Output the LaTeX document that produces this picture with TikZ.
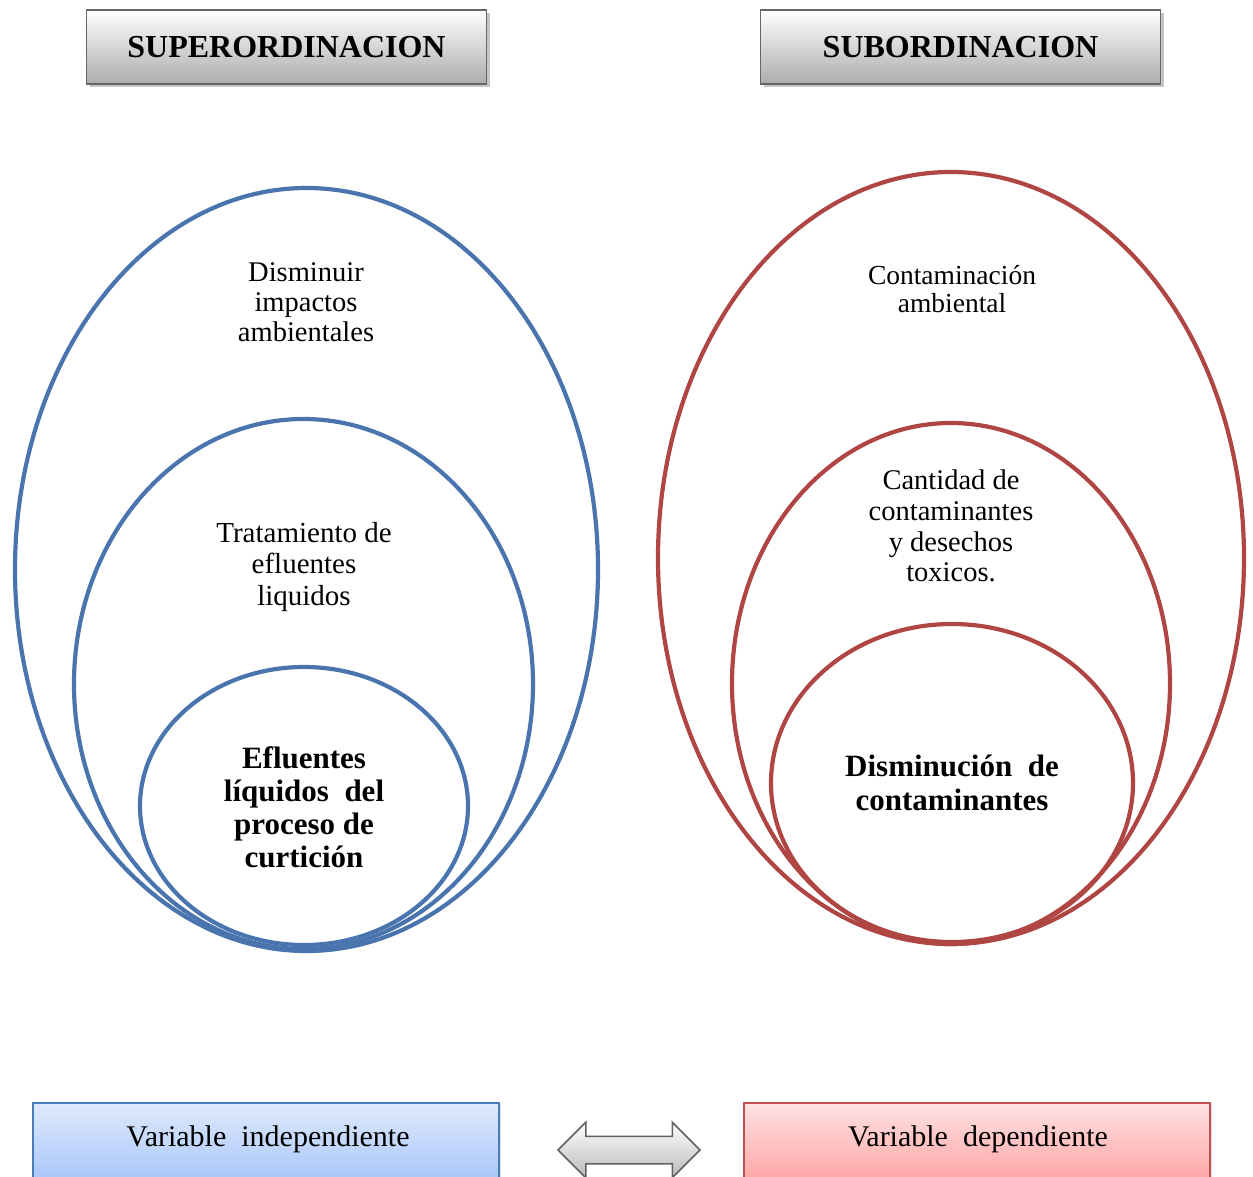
\documentclass[tikz,border=0pt]{standalone}
\usepackage{fontspec}
\setmainfont{Liberation Serif}
\usetikzlibrary{shapes.geometric,shapes.arrows,shadows}
\definecolor{supblue}{HTML}{4A74AD}
\definecolor{subred}{HTML}{B04643}
\definecolor{vblueline}{HTML}{4A7EBB}
\definecolor{vredline}{HTML}{C0504D}
\definecolor{vbluetop}{HTML}{DFEAFC}
\definecolor{vbluebot}{HTML}{A6C5FA}
\definecolor{vredtop}{HTML}{FFE2E2}
\definecolor{vredbot}{HTML}{FFA3A3}
\tikzset{
  header/.style={draw=gray!80!black, line width=1.2pt, top color=white, bottom color=gray!65,
    minimum width=400, minimum height=74, inner sep=0,
    drop shadow={shadow xshift=3pt, shadow yshift=-3pt, fill=black!45},
    font=\fontsize{32}{36}\selectfont\bfseries},
  ring/.style={ellipse, draw, line width=4.2pt, inner sep=0},
  bluering/.style={ring, draw=supblue},
  redring/.style={ring, draw=subred},
  label/.style={align=center, font=\fontsize{28.5}{30}\selectfont},
  boldlabel/.style={align=center, font=\fontsize{31}{33}\selectfont\bfseries},
  varbox/.style={line width=1.2pt, minimum width=466, minimum height=80, inner sep=0},
  vartext/.style={font=\fontsize{30}{34}\selectfont},
}
\begin{document}
\begin{tikzpicture}[x=1pt, y=-1pt]
\useasboundingbox (0,0) rectangle (1253,1177);
\clip (0,0) rectangle (1253,1177);

% headers
\node[header] (sup) at (286.5,47) {SUPERORDINACION};
\node[header] (sub) at (960.5,47) {SUBORDINACION};

% nested ellipses, left
\node[bluering, minimum width=583, minimum height=763] (bo) at (306.5,569.5) {};
\node[bluering, minimum width=459, minimum height=530] (bm) at (303.5,684) {};
\node[bluering, minimum width=328, minimum height=278] (bi) at (304,806) {};

% nested ellipses, right
\node[redring, minimum width=586, minimum height=772] (ro) at (951,558) {};
\node[redring, minimum width=438, minimum height=521] (rm) at (951,683.5) {};
\node[redring, minimum width=362, minimum height=318] (ri) at (952,783) {};

% labels, left
\node[label] (t1) at (306,302) {Disminuir\\impactos\\ambientales};
\node[label, font=\fontsize{29}{31.5}\selectfont] (t2) at (304,567) {Tratamiento de\\efluentes\\liquidos};
\node[boldlabel] (t3) at (304,807) {Efluentes\\líquidos\enspace del\\proceso de\\curtición};

% labels, right
\node[label, font=\fontsize{27.5}{28}\selectfont] (t4) at (952,289) {Contaminación\\ambiental};
\node[label, font=\fontsize{28.5}{30.7}\selectfont] (t5) at (951,526) {Cantidad de\\contaminantes\\y desechos\\toxicos.};
\node[boldlabel, font=\fontsize{31}{34}\selectfont\bfseries] (t6) at (952,783) {Disminución\enspace de\\contaminantes};

% variable boxes
\node[varbox, draw=vblueline, top color=vbluetop, bottom color=vbluebot,
  drop shadow={shadow xshift=2pt, shadow yshift=-1pt, fill=black!25}] (vi) at (266,1143) {};
\node[vartext] (vit) at (268,1139) {Variable\enspace independiente};
\node[varbox, draw=vredline, top color=vredtop, bottom color=vredbot,
  drop shadow={shadow xshift=2pt, shadow yshift=-1pt, fill=black!25}] (vd) at (977,1143) {};
\node[vartext] (vdt) at (978,1139) {Variable\enspace dependiente};

% double arrow between them
\node[double arrow, draw=gray!75!black, line width=1.5pt, top color=white, bottom color=gray!55,
  minimum height=142, inner xsep=0, inner ysep=13, double arrow head extend=14,
  double arrow head indent=0] (arr) at (629,1150) {};
\end{tikzpicture}
\end{document}
